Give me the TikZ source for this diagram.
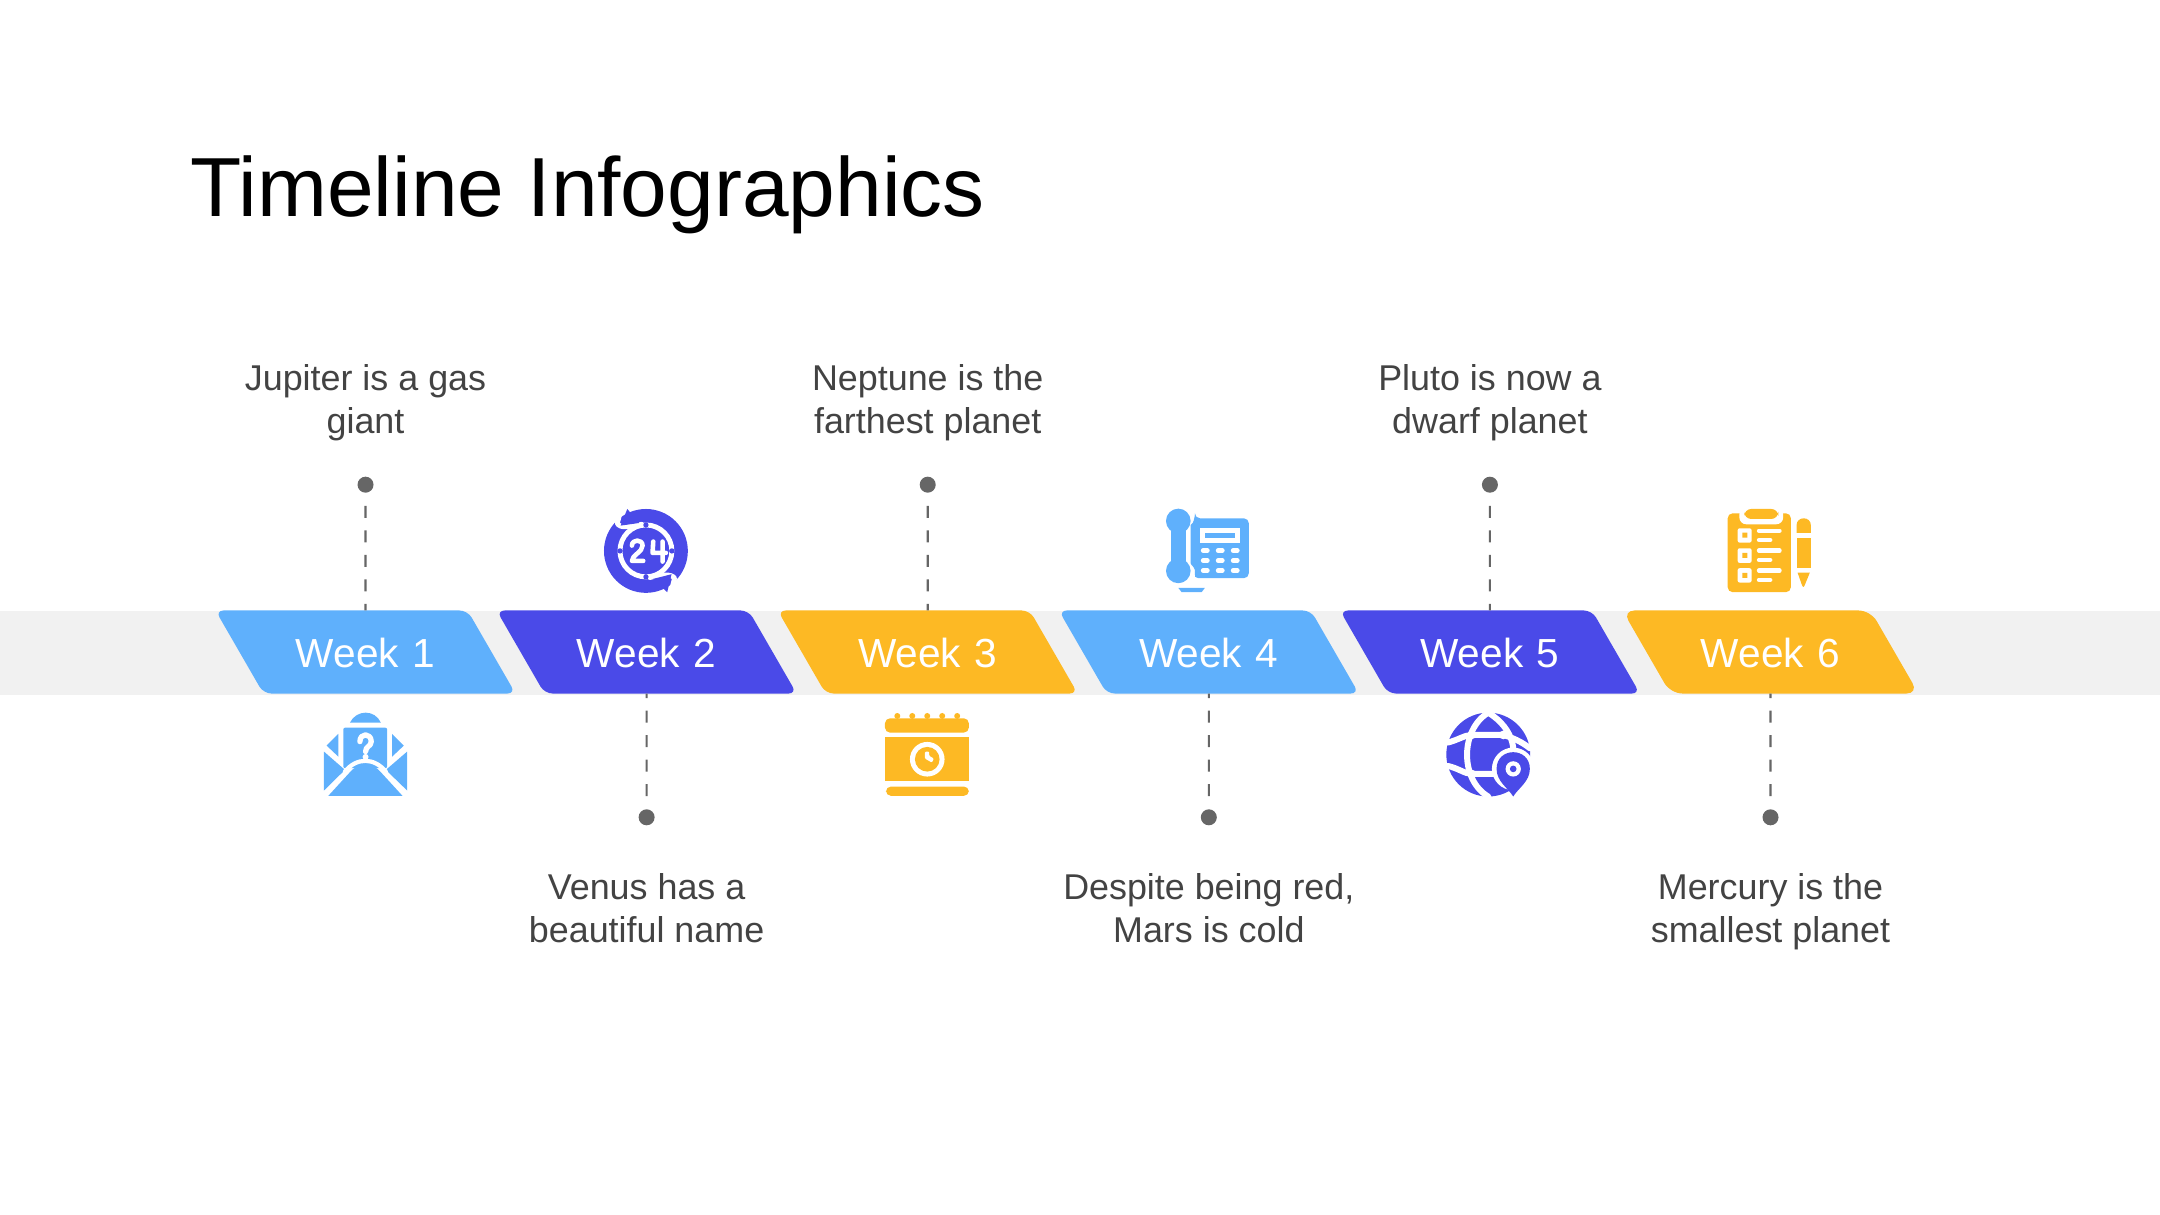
\documentclass[tikz,border=0pt]{standalone}
\usepackage{xcolor}
\usepackage{fontspec}
\setmainfont{Liberation Sans}
\usetikzlibrary{positioning,shapes.geometric}
\definecolor{skyblue}{HTML}{5FB0FC}
\definecolor{indigo}{HTML}{4A4AE8}
\definecolor{amber}{HTML}{FDB924}
\definecolor{bandgray}{HTML}{F1F1F1}
\definecolor{notegray}{HTML}{434343}
\definecolor{dotgray}{HTML}{666666}
\tikzstyle{week}=[trapezium, trapezium left angle=120, trapezium right angle=60,
        text width=2.04cm, text height=0.57cm, text depth=0.26cm, align=center,
        inner sep=0pt, outer sep=0pt, rounded corners=0.08cm,
        text=white, font=\fontsize{11.55pt}{14pt}\selectfont]
\tikzstyle{note}=[text=notegray, align=center, inner sep=0pt, font=\fontsize{10.2pt}{12.2pt}\selectfont]
\tikzstyle{dot}=[circle, fill=dotgray, inner sep=0pt, minimum size=0.16cm]
\tikzstyle{stem}=[draw=dotgray, line width=0.6pt, dash pattern=on 0.12cm off 0.125cm]
\tikzstyle{iconbox}=[x=0.003333cm, y=-0.003333cm]
\tikzstyle{cut}=[draw=white, line cap=round, line join=round]
\begin{document}
\begin{tikzpicture}[x=0.01cm, y=-0.01cm]
        \useasboundingbox (0,0) rectangle (2160,1215);
        \fill[bandgray] (0,611) rectangle (2160,695);
        \node (Title) [anchor=base west, inner sep=0pt, font=\fontsize{23.85pt}{28pt}\selectfont] at (190,216) {Timeline Infographics};

        \node (Week1) [week, fill=skyblue] at (365.5,652) {Week 1};
        \node (Week2) [week, fill=indigo, right=0.29cm of Week1] {Week 2};
        \node (Week3) [week, fill=amber, right=0.29cm of Week2] {Week 3};
        \node (Week4) [week, fill=skyblue, right=0.29cm of Week3] {Week 4};
        \node (Week5) [week, fill=indigo, right=0.29cm of Week4] {Week 5};
        \node (Week6) [week, fill=amber, text width=2cm, rounded corners=0.12cm, right=0.305cm of Week5] {Week 6};

        \node (Dot1) [dot, above=1.17cm of Week1] {};
        \node (Dot2) [dot, below=1.15cm of Week2] {};
        \node (Dot3) [dot, above=1.17cm of Week3] {};
        \node (Dot4) [dot, below=1.15cm of Week4] {};
        \node (Dot5) [dot, above=1.17cm of Week5] {};
        \node (Dot6) [dot, below=1.15cm of Week6] {};

        \draw[stem, dash phase=0.12cm] (Dot1) -- (Week1);
        \draw[stem, dash phase=0.12cm] (Dot3) -- (Week3);
        \draw[stem, dash phase=0.12cm] (Dot5) -- (Week5);
        \draw[stem, dash phase=0.12cm] (Dot2) -- (Week2);
        \draw[stem, dash phase=0.12cm] (Dot4) -- (Week4);
        \draw[stem, dash phase=0.12cm] (Dot6) -- (Week6);

        \node (Note1) [note, above=0.34cm of Dot1] {Jupiter is a gas\\giant};
        \node (Note2) [note, below=0.47cm of Dot2] {Venus has a\\beautiful name};
        \node (Note3) [note, above=0.34cm of Dot3] {Neptune is the\\farthest planet};
        \node (Note4) [note, below=0.47cm of Dot4] {Despite being red,\\Mars is cold};
        \node (Note5) [note, above=0.34cm of Dot5] {Pluto is now a\\dwarf planet};
        \node (Note6) [note, below=0.47cm of Dot6] {Mercury is the\\smallest planet};

        \begin{scope}[shift={(300,700)}, iconbox]
          \fill[skyblue] (150,68) .. controls (170,28) and (225,28) .. (243,68) -- cycle;
          \fill[skyblue, rounded corners=0.02cm] (130,83) rectangle (262,205);
          \fill[skyblue] (115,102) -- (115,170) -- (80,137) -- cycle;
          \fill[skyblue] (277,102) -- (277,170) -- (312,137) -- cycle;
          \fill[skyblue] (72,155) -- (135,210) -- (72,272) -- cycle;
          \fill[skyblue] (322,155) -- (258,210) -- (322,272) -- cycle;
          \draw[cut, line width=1.2pt] (135,215) .. controls (170,172) and (222,172) .. (258,215);
          \fill[skyblue] (85,288) -- (150,217) .. controls (175,187) and (218,187) .. (243,217) -- (308,288) -- cycle;
          \draw[cut, line width=1.5pt] (180,125) .. controls (180,98) and (214,98) .. (214,125) .. controls (214,140) and (197,138) .. (197,155);
          \fill[white] (197,171) circle (9);
        \end{scope}

        \begin{scope}[shift={(590,495)}, iconbox]
          \fill[indigo] (168,168) circle (126);
          \draw[cut, line width=1.4pt] (168,168) circle (78);
          \draw[cut, line width=1.4pt] (88,62) -- (82,85) .. controls (90,102) and (125,95) .. (155,88);
          \draw[cut, line width=1.4pt] (248,275) -- (254,250) .. controls (245,235) and (210,240) .. (180,248);
          \fill[indigo] (112,42) -- (92,92) -- (148,84) -- cycle;
          \fill[indigo] (232,292) -- (245,238) -- (190,252) -- cycle;
          \fill[indigo] (168,90) circle (8) (168,246) circle (8) (90,168) circle (8) (246,168) circle (8);
          \draw[cut, line width=1.3pt] (126,152) .. controls (126,132) and (158,132) .. (158,152) .. controls (158,172) and (126,180) .. (126,198) -- (160,198);
          \draw[cut, line width=1.3pt] (190,140) -- (188,174) -- (228,174) (218,140) -- (218,200);
        \end{scope}

        \begin{scope}[shift={(870,700)}, iconbox]
          \fill[amber, rounded corners=0.05cm] (45,98) -- (45,55) -- (297,55) -- (297,98) -- cycle;
          \fill[amber] (82,48) circle (9) (127,48) circle (9) (172,48) circle (9) (217,48) circle (9) (262,48) circle (9);
          \fill[amber] (45,112) rectangle (297,242);
          \fill[amber, rounded corners=0.05cm] (48,260) -- (297,260) -- (297,288) -- (48,288) -- cycle;
          \fill[white] (172,178) circle (52);
          \fill[amber] (172,178) circle (37);
          \fill[white, rounded corners=0.01cm] (165,155) -- (178,155) -- (178,168) -- (192,176) -- (186,188) -- (165,176) -- cycle;
        \end{scope}

        \begin{scope}[shift={(1150,495)}, iconbox]
          \fill[skyblue] (85,78) circle (37);
          \fill[skyblue] (85,228) circle (37);
          \fill[skyblue] (64,78) rectangle (107,228);
          \fill[skyblue, rounded corners=0.05cm] (135,70) -- (297,70) -- (297,250) -- (130,250) .. controls (140,220) and (122,210) .. (122,190) -- (122,105) .. controls (122,90) and (128,85) .. cycle;
          \fill[white] (150,100) rectangle (270,143);
          \fill[skyblue] (165,113) rectangle (255,128);
          \draw[cut, line width=1.4pt] (160,167) -- (172,167) (205,167) -- (217,167) (250,167) -- (262,167)
            (160,197) -- (172,197) (205,197) -- (217,197) (250,197) -- (262,197)
            (160,227) -- (172,227) (205,227) -- (217,227) (250,227) -- (262,227);
          \fill[skyblue] (85,279) -- (165,279) -- (155,292) -- (95,292) -- cycle;
        \end{scope}

        \begin{scope}[shift={(1435,700)}, iconbox]
          \fill[indigo] (160,164) circle (126);
          \draw[cut, line width=1.7pt] (160,38) .. controls (75,90) and (75,240) .. (160,290);
          \draw[cut, line width=1.7pt] (160,38) .. controls (245,90) and (245,170) .. (225,200);
          \draw[cut, line width=1.7pt] (38,128) .. controls (70,120) and (90,105) .. (110,105) -- (205,105) .. controls (230,112) and (260,125) .. (285,145);
          \draw[cut, line width=1.7pt] (38,198) .. controls (70,205) and (90,222) .. (110,222) -- (180,222);
          \fill[white] (110,105) circle (13) (205,105) circle (13) (110,222) circle (13);
          \fill[white] (235,207) circle (64);
          \fill[indigo] (185,207) .. controls (185,140) and (285,140) .. (285,207) .. controls (285,245) and (250,265) .. (235,290) .. controls (220,265) and (185,245) .. (185,207) -- cycle;
          \fill[white] (235,207) circle (23);
          \fill[indigo] (235,207) circle (10);
        \end{scope}

        \begin{scope}[shift={(1715,495)}, iconbox]
          \fill[amber, rounded corners=0.05cm] (38,55) rectangle (228,292);
          \fill[white, rounded corners=0.07cm] (73,38) rectangle (205,88);
          \fill[amber, rounded corners=0.07cm] (88,42) rectangle (190,72);
          \fill[white, rounded corners=0.02cm] (68,100) rectangle (110,143) (68,160) rectangle (110,204) (68,220) rectangle (110,263);
          \fill[amber] (82,113) rectangle (97,128) (82,174) rectangle (97,189) (82,234) rectangle (97,249);
          \draw[cut, line width=1.2pt] (132,107) -- (194,107) (132,135) -- (166,135)
            (132,167) -- (194,167) (132,195) -- (166,195)
            (132,227) -- (194,227) (132,255) -- (166,255);
          \fill[amber] (245,114) -- (245,91) .. controls (245,63) and (288,63) .. (288,91) -- (288,114) -- cycle;
          \fill[amber] (245,128) rectangle (288,220);
          \fill[amber] (248,233) -- (285,233) -- (270,270) .. controls (267,278) and (264,278) .. (261,270) -- cycle;
        \end{scope}
\end{tikzpicture}
\end{document}
